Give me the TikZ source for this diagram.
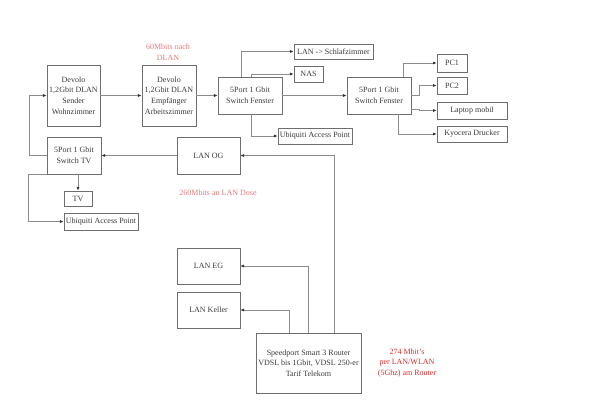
\documentclass[tikz,border=0pt]{standalone}
\usepackage{fontspec}
\setmainfont{Liberation Serif}
\usetikzlibrary{arrows.meta}
\definecolor{boxline}{HTML}{6E6E6E}
\definecolor{wire}{HTML}{8C8C8C}
\definecolor{textgray}{HTML}{3A3A3A}
\definecolor{notepink}{HTML}{E27A7A}
\definecolor{notered}{HTML}{D92B2B}
\tikzset{
  unit/.style={draw=boxline,line width=0.5pt,align=center,text=textgray,
    inner sep=1pt,font=\fontsize{5.7}{7.6}\selectfont},
  dims/.style n args={2}{minimum width=#1*0.025cm,minimum height=#2*0.025cm},
  conn/.style={draw=wire,line width=0.55pt,-{Latex[length=2.6pt,width=2.2pt,color=black!80]}},
  note/.style={align=center,font=\fontsize{5.7}{7.6}\selectfont}
}
\begin{document}
\begin{tikzpicture}[x=0.025cm,y=-0.025cm]
  \useasboundingbox (0,0) rectangle (590,417);
  % top row
  \node[unit,dims={53}{61}] (sender) at (73.5,95.5) {Devolo\\1,2Gbit DLAN\\Sender\\Wohnzimmer};
  \node[unit,dims={54}{61}] (empf) at (169,95.5) {Devolo\\1,2Gbit DLAN\\Empfänger\\Arbeitszimmer};
  \node[unit,dims={64}{37}] (swf1) at (250,95.5) {5Port 1 Gbit\\Switch Fenster};
  \node[unit,dims={79}{15}] (schlaf) at (333.5,51.5) {LAN -> Schlafzimmer};
  \node[unit,dims={29}{16}] (nas) at (308.5,74) {NAS};
  \node[unit,dims={74}{16}] (ap1) at (315,136) {Ubiquiti Access Point};
  \node[unit,dims={64}{37}] (swf2) at (379,95.5) {5Port 1 Gbit\\Switch Fenster};
  \node[unit,dims={30}{18}] (pc1) at (452,63) {PC1};
  \node[unit,dims={30}{17}] (pc2) at (452,85.5) {PC2};
  \node[unit,dims={70}{17}] (laptop) at (472,110.5) {Laptop mobil};
  \node[unit,dims={70}{16}] (kyocera) at (472,134) {Kyocera Drucker};
  % middle row
  \node[unit,dims={54}{37}] (swtv) at (74,155.5) {5Port 1 Gbit\\Switch TV};
  \node[unit,dims={63}{37}] (lanog) at (208.5,155.5) {LAN OG};
  \node[unit,dims={28}{15}] (tv) at (78,198.5) {TV};
  \node[unit,dims={74}{17}] (ap2) at (101,221.5) {Ubiquiti Access Point};
  % bottom
  \node[unit,dims={63}{36}] (laneg) at (208.5,266) {LAN EG};
  \node[unit,dims={63}{36}] (lankeller) at (208.5,310) {LAN Keller};
  \node[unit,dims={105}{60}] (router) at (308.5,363) {Speedport Smart 3 Router\\VDSL bis 1Gbit, VDSL 250-er\\Tarif Telekom};
  % notes
  \node[note,text=notepink] (dlannote) at (168,52) {60Mbits nach\\DLAN};
  \node[note,text=notepink] (dosenote) at (218,193) {260Mbits an LAN Dose};
  \node[note,text=notered] (routernote) at (407,363) {274 Mbit's\\per LAN/WLAN\\(5Ghz) am Router};
  % connectors
  \draw[conn] (sender) -- (empf);
  \draw[conn] (empf) -- (swf1);
  \draw[conn] (swf1.north) ++(-9,0) |- (schlaf.west);
  \draw[conn] (swf1.north) ++(1,0) |- (nas.west);
  \draw[conn] (swf1) -- (swf2);
  \draw[conn] (swf1.south) ++(1,0) |- (ap1.west);
  \draw[conn] (swf2.north) ++(24,0) |- (pc1.west);
  \draw[conn] (swf2.east) -- ++(8,0) |- (pc2.west);
  \draw[conn] (swf2.east) ++(0,13.5) -- ++(8,0) |- (laptop.west);
  \draw[conn] (swf2.south) ++(19,0) |- (kyocera.west);
  \draw[conn] (lanog) -- (swtv);
  \draw[conn] (router.north) ++(25.5,0) |- (lanog.east);
  \draw[conn] (router.north) |- (laneg.east);
  \draw[conn] (router.north) ++(-19.5,0) |- (lankeller.east);
  \draw[conn] (swtv.west) -- ++(-17,0) |- (sender.west);
  \draw[conn] (swtv.south -| tv) -- (tv);
  \draw[conn] (swtv.south west) -- ++(-18,0) |- (ap2.west);
\end{tikzpicture}
\end{document}
